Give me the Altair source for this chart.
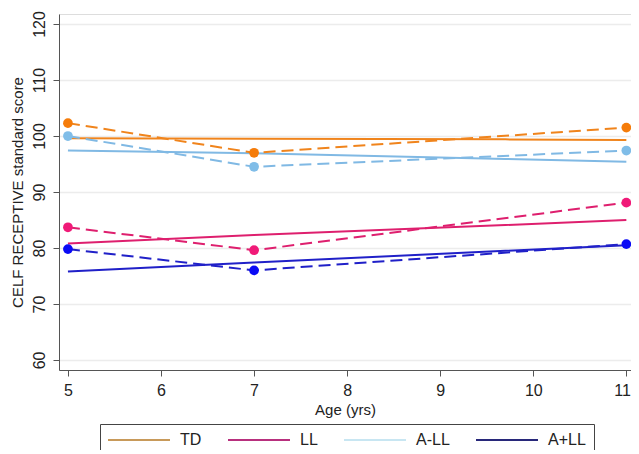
import altair as alt
import pandas as pd

groups = ["TD", "LL", "A-LL", "A+LL"]

ages_obs = [5, 7, 11]
td_obs = [102.3, 97.0, 101.5]
ll_obs = [83.7, 79.6, 88.1]
all_minus_obs = [100.0, 94.5, 97.4]
all_plus_obs = [79.8, 76.0, 80.7]

ages_fit = [5, 7, 9.7, 11]
td_fit = [99.6, 99.5, 99.4, 99.3]
ll_fit = [80.8, 82.3, 84.1, 85.0]
all_minus_fit = [97.4, 96.9, 95.9, 95.4]
all_plus_fit = [75.8, 77.4, 79.5, 80.5]

x_ticks = [5, 6, 7, 8, 9, 10, 11]
y_ticks = [60, 70, 80, 90, 100, 110, 120]

line_colors = ["#f0841c", "#de1f6e", "#80b9e4", "#2020c8"]
point_colors = ["#f57c0a", "#f01a78", "#80bde8", "#0a0af5"]
legend_colors = ["#c89a5a", "#b8307e", "#c8e6f2", "#28287a"]

obs_rows = []
for g, vals in zip(groups, [td_obs, ll_obs, all_minus_obs, all_plus_obs]):
    for a, v in zip(ages_obs, vals):
        obs_rows.append({"group": g, "age": a, "score": v})
obs = pd.DataFrame(obs_rows)

fit_rows = []
for g, vals in zip(groups, [td_fit, ll_fit, all_minus_fit, all_plus_fit]):
    for a, v in zip(ages_fit, vals):
        fit_rows.append({"group": g, "age": a, "score": v})
fit = pd.DataFrame(fit_rows)

FONT = "Liberation Sans"

x = alt.X("age:Q", title="Age (yrs)",
          scale=alt.Scale(domain=[4.904, 11.05], nice=False, zero=False),
          axis=alt.Axis(values=x_ticks, grid=False, labelFontSize=16, titleFontSize=15,
                        labelFont=FONT, titleFont=FONT, labelColor="#222", titleColor="#222",
                        titleFontWeight="normal", domainColor="#555", tickColor="#555",
                        tickSize=6, labelPadding=6, titlePadding=4, format="d",
                        labelFlush=6, labelFlushOffset=4))
y = alt.Y("score:Q", title="CELF RECEPTIVE standard score",
          scale=alt.Scale(domain=[58.21, 121.79], nice=False, zero=False),
          axis=alt.Axis(values=y_ticks, grid=True, gridColor="#ececec", gridWidth=1.5,
                        labelFontSize=16, titleFontSize=15, labelFont=FONT, titleFont=FONT,
                        labelColor="#222", titleColor="#222", titleFontWeight="normal",
                        labelAngle=270, labelAlign="center", labelBaseline="bottom",
                        domainColor="#555", tickColor="#555", tickSize=6, labelPadding=6,
                        titlePadding=6))

def cscale(rng):
    return alt.Scale(domain=groups, range=rng)

fit_layer = alt.Chart(fit).mark_line(strokeWidth=2).encode(
    x=x, y=y, color=alt.Color("group:N", scale=cscale(line_colors), legend=None),
    detail="group:N")

obs_layer = alt.Chart(obs).mark_line(strokeWidth=2, strokeDash=[12, 6]).encode(
    x=x, y=y, color=alt.Color("group:N", scale=cscale(line_colors), legend=None),
    detail="group:N")

pt_layer = alt.Chart(obs).mark_circle(size=95, opacity=1).encode(
    x=x, y=y, color=alt.Color("group:N", scale=cscale(point_colors), legend=None))

leg_layer = alt.Chart(fit).mark_line(opacity=0).encode(
    x=x, y=y,
    color=alt.Color("group:N", scale=cscale(legend_colors), sort=groups,
                    legend=alt.Legend(title=None, orient="none", legendX=41, legendY=410,
                                      direction="horizontal", strokeColor="#444",
                                      padding=8, symbolType="M-4,0H27", symbolSize=16,
                                      symbolStrokeWidth=2, symbolOpacity=1,
                                      labelFontSize=16, labelFont=FONT, labelColor="#222",
                                      labelOffset=56, columnPadding=22)))

chart = alt.layer(fit_layer, obs_layer, pt_layer, leg_layer).resolve_scale(
    color="independent"
).properties(
    width=572, height=356,
    autosize=alt.AutoSizeParams(type="none"),
    padding={"left": 51, "top": 6, "right": 0, "bottom": 80},
).configure_view(stroke=None).configure(background="white")

chart.save("out.html", embed_options={"renderer": "svg", "actions": False})
